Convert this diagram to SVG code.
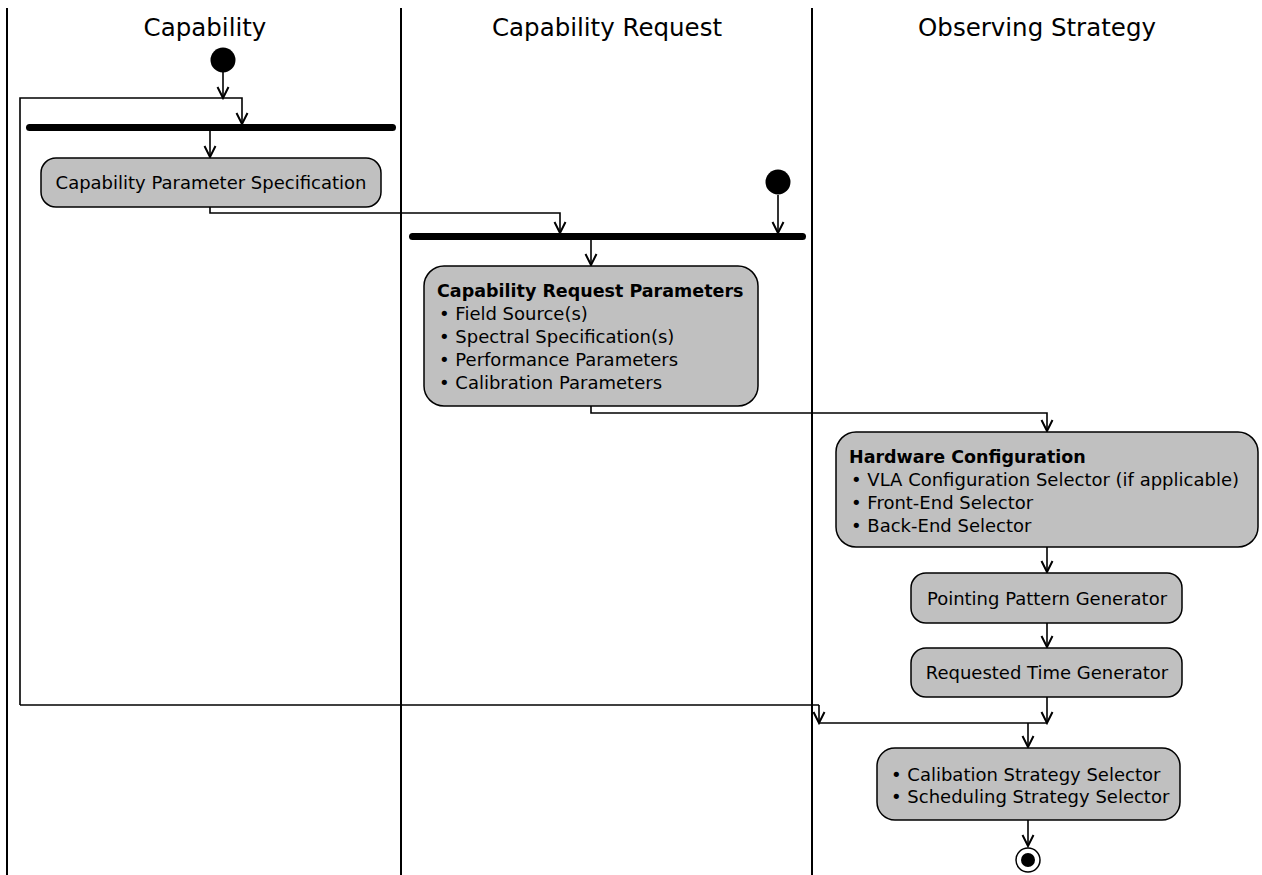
<svg xmlns="http://www.w3.org/2000/svg" width="1262" height="875" viewBox="0 0 1262 875">
  <defs>
    <marker id="arrow" markerWidth="14" markerHeight="14" viewBox="-12 -7 14 14" refX="0" refY="0" orient="auto" markerUnits="userSpaceOnUse">
      <path d="M-11,-5.5 L0,0 L-11,5.5" fill="none" stroke="#000" stroke-width="2" stroke-linejoin="miter"/>
    </marker>
  </defs>
  <style>
    .lane { stroke: #000; stroke-width: 2; }
    .title { font-family: "DejaVu Sans", sans-serif; font-size: 24.5px; fill: #000; text-anchor: middle; }
    .box { fill: #c0c0c0; stroke: #000; stroke-width: 1.5; }
    .label { font-family: "DejaVu Sans", sans-serif; font-size: 18px; fill: #000; }
    .center { text-anchor: middle; }
    .bold { font-weight: bold; font-size: 17.5px; }
    .bar { fill: #000; }
    .flow { fill: none; stroke: #000; stroke-width: 1.6; }
    .arr { marker-end: url(#arrow); }
  </style>
  <rect width="1262" height="875" fill="#fff"/>

  <!-- swimlanes -->
  <g id="lanes">
    <line class="lane" x1="7" y1="8" x2="7" y2="875"/>
    <line class="lane" x1="401" y1="8" x2="401" y2="875"/>
    <line class="lane" x1="812" y1="8" x2="812" y2="875"/>
    <text class="title" x="205" y="36">Capability</text>
    <text class="title" x="607" y="36">Capability Request</text>
    <text class="title" x="1037" y="36">Observing Strategy</text>
  </g>

  <!-- connectors -->
  <g id="connectors">
    <line class="flow arr" x1="223" y1="72" x2="223" y2="98"/>
    <path class="flow arr" d="M20,705 L20,98 L242,98 L242,124"/>
    <line class="flow arr" x1="210" y1="130" x2="210" y2="157"/>
    <path class="flow arr" d="M210,207 L210,213 L560,213 L560,233"/>
    <line class="flow arr" x1="778" y1="195" x2="778" y2="233"/>
    <line class="flow arr" x1="591" y1="239" x2="591" y2="265"/>
    <path class="flow arr" d="M591,406 L591,413 L1047,413 L1047,431"/>
    <line class="flow arr" x1="1047" y1="547" x2="1047" y2="572"/>
    <line class="flow arr" x1="1047" y1="623" x2="1047" y2="647"/>
    <path class="flow" d="M20,705 L819,705"/>
    <line class="flow arr" x1="819" y1="705" x2="819" y2="723"/>
    <line class="flow arr" x1="1047" y1="697" x2="1047" y2="723"/>
    <line class="flow" x1="819" y1="723" x2="1047" y2="723"/>
    <line class="flow arr" x1="1028" y1="723" x2="1028" y2="747"/>
    <line class="flow arr" x1="1028" y1="820" x2="1028" y2="846"/>
  </g>

  <g id="start1">
    <circle cx="223" cy="60" r="12.5" fill="#000"/>
  </g>

  <g id="fork1">
    <rect class="bar" x="26" y="124" width="370" height="7" rx="3.5"/>
  </g>

  <g id="capabilityParameterSpecification">
    <rect class="box" x="41" y="158" width="340" height="49" rx="15"/>
    <text class="label center" x="211" y="189">Capability Parameter Specification</text>
  </g>

  <g id="start2">
    <circle cx="778" cy="182" r="12.5" fill="#000"/>
  </g>

  <g id="fork2">
    <rect class="bar" x="409" y="233" width="397" height="7" rx="3.5"/>
  </g>

  <g id="capabilityRequestParameters">
    <rect class="box" x="424" y="266" width="334" height="140" rx="20"/>
    <text class="label bold" x="437" y="297">Capability Request Parameters</text>
    <text class="label" x="439" y="320">• Field Source(s)</text>
    <text class="label" x="439" y="343">• Spectral Specification(s)</text>
    <text class="label" x="439" y="366">• Performance Parameters</text>
    <text class="label" x="439" y="389">• Calibration Parameters</text>
  </g>

  <g id="hardwareConfiguration">
    <rect class="box" x="836" y="432" width="422" height="115" rx="20"/>
    <text class="label bold" x="849" y="463">Hardware Configuration</text>
    <text class="label" x="851" y="486">• VLA Configuration Selector (if applicable)</text>
    <text class="label" x="851" y="509">• Front-End Selector</text>
    <text class="label" x="851" y="532">• Back-End Selector</text>
  </g>

  <g id="pointingPatternGenerator">
    <rect class="box" x="911" y="573" width="271" height="50" rx="15"/>
    <text class="label center" x="1047" y="605">Pointing Pattern Generator</text>
  </g>

  <g id="requestedTimeGenerator">
    <rect class="box" x="911" y="648" width="271" height="49" rx="15"/>
    <text class="label center" x="1047" y="679">Requested Time Generator</text>
  </g>

  <g id="strategySelectors">
    <rect class="box" x="877" y="748" width="303" height="72" rx="18"/>
    <text class="label" x="891" y="781">• Calibation Strategy Selector</text>
    <text class="label" x="891" y="803">• Scheduling Strategy Selector</text>
  </g>

  <g id="end">
    <circle cx="1028" cy="860" r="12" fill="#fff" stroke="#000" stroke-width="1.5"/>
    <circle cx="1028" cy="860" r="7" fill="#000"/>
  </g>
</svg>
